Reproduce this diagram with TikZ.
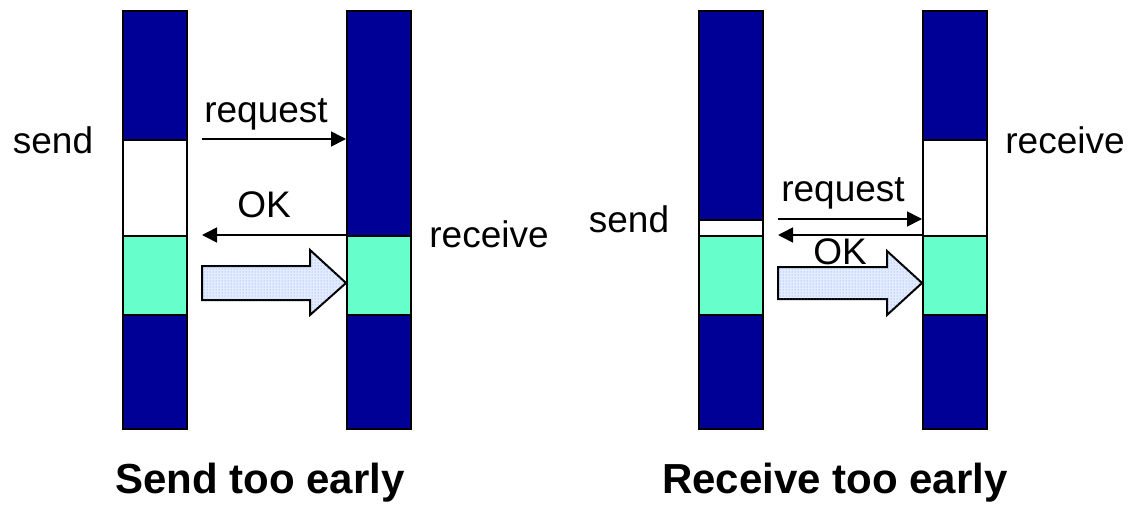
\documentclass[tikz,border=0pt]{standalone}
\usepackage{fontspec}
\setmainfont{Liberation Sans}
\usetikzlibrary{arrows.meta,patterns}
\definecolor{navy}{RGB}{0,0,150}
\definecolor{mint}{RGB}{102,255,204}
\definecolor{dotblue}{RGB}{110,150,245}
\definecolor{paleblue}{RGB}{228,236,255}
\tikzset{
  seg/.style={draw=black, line width=2pt, inner sep=0pt, anchor=north west},
  dark/.style={seg, fill=navy},
  blank/.style={seg, fill=white},
  buf/.style={seg, fill=mint},
  lbl/.style={inner sep=0pt, anchor=base, font=\fontsize{37}{44}\selectfont},
  title/.style={inner sep=0pt, anchor=base, font=\fontsize{42}{50}\selectfont\bfseries},
  msg/.style={line width=1.6pt, -{Triangle[length=15pt,width=15pt]}},
  bigarrow/.style={draw=black, line width=2pt, fill=paleblue, postaction={pattern=dots, pattern color=dotblue}}
}
\newcommand{\segment}[5]{% name, style, x, ytop, ybottom
  \node[#2, minimum width=64pt, minimum height={(#5)-(#4)}] (#1) at (#3,#4) {};}
\begin{document}
\begin{tikzpicture}[x=1pt,y=-1pt]
\useasboundingbox (0,0) rectangle (1129,506);
% ---- left diagram: send too early
\segment{a1}{dark}{122}{10}{139}
\segment{a2}{blank}{122}{139}{235}
\segment{a3}{buf}{122}{235}{314}
\segment{a4}{dark}{122}{314}{428}
\segment{b1}{dark}{346}{10}{235}
\segment{b3}{buf}{346}{235}{314}
\segment{b4}{dark}{346}{314}{428}
\coordinate (reqA) at (202,139);
\coordinate (okA) at (202,235);
\draw[msg] (reqA) -- (reqA -| b1.west);
\draw[msg] (b3.north west) -- (okA);
\draw[bigarrow] (202,266) -- (310,266) -- (310,250) -- (b3.west |- 0,283) -- (310,315) -- (310,300) -- (202,300) -- cycle;
\node[lbl] (sendA) at (53,153) {send};
\node[lbl] (requestA) at (266,122) {request};
\node[lbl] (okLA) at (264,217) {OK};
\node[lbl] (recvA) at (489,247) {receive};
\node[title] (titleA) at (260,493) {Send too early};
% ---- right diagram: receive too early
\segment{c1}{dark}{698}{10}{219}
\segment{c2}{blank}{698}{219}{235}
\segment{c3}{buf}{698}{235}{314}
\segment{c4}{dark}{698}{314}{428}
\segment{d1}{dark}{922}{10}{139}
\segment{d2}{blank}{922}{139}{235}
\segment{d3}{buf}{922}{235}{314}
\segment{d4}{dark}{922}{314}{428}
\coordinate (reqB) at (778,219);
\coordinate (okB) at (778,235);
\draw[msg] (reqB) -- (reqB -| d2.west);
\draw[msg] (d3.north west) -- (okB);
\draw[bigarrow] (778,267) -- (887,267) -- (887,251) -- (d3.west |- 0,283) -- (887,315) -- (887,299) -- (778,299) -- cycle;
\node[lbl] (sendB) at (629,232) {send};
\node[lbl] (requestB) at (843,201) {request};
\node[lbl] (okLB) at (840,264) {OK};
\node[lbl] (recvB) at (1065,153) {receive};
\node[title] (titleB) at (835,493) {Receive too early};
\end{tikzpicture}
\end{document}
